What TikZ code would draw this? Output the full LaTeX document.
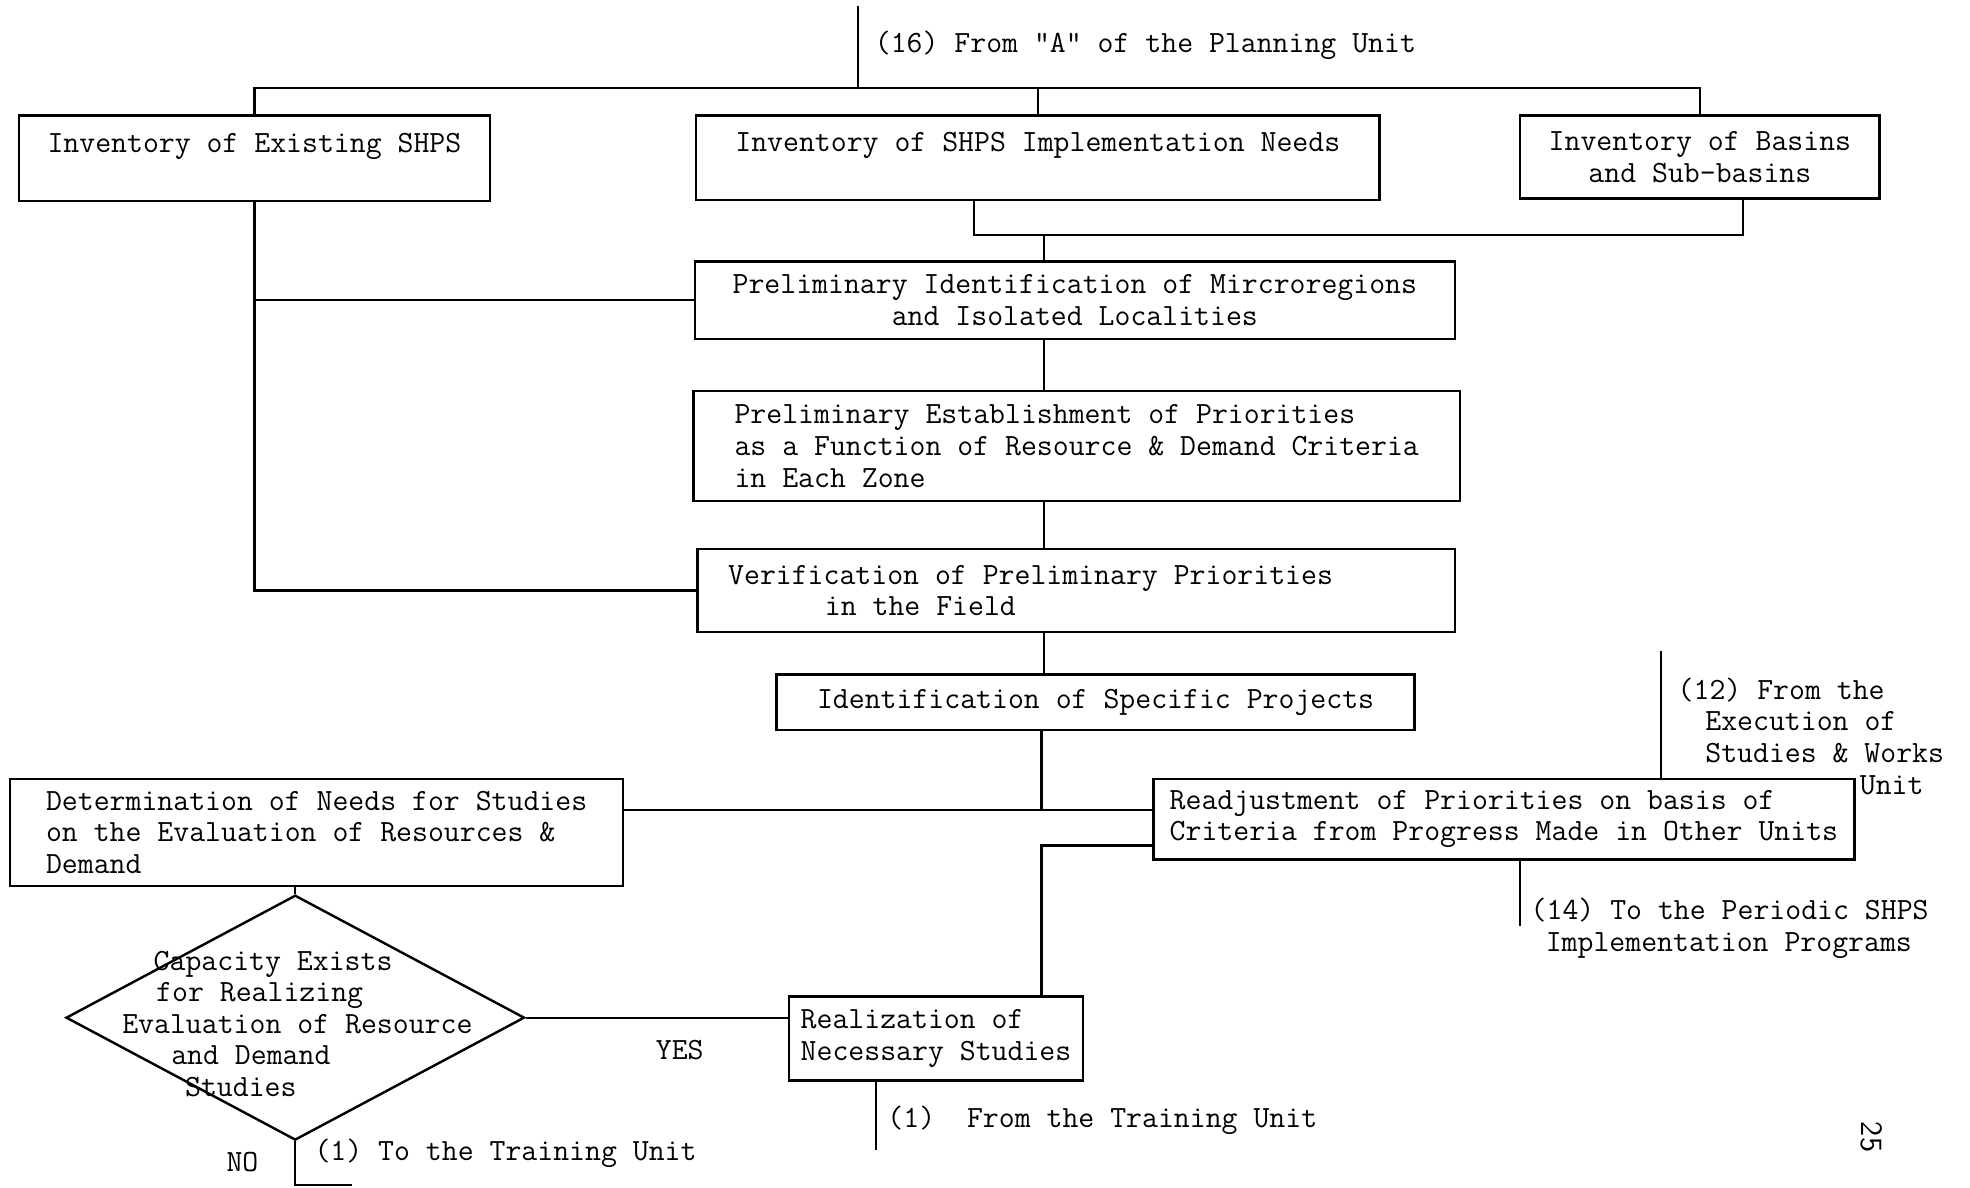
\documentclass[tikz,border=0pt]{standalone}
\usepackage{fontspec}
\usepackage{tikz}
\usetikzlibrary{shapes.geometric}

\begin{document}
\begin{tikzpicture}[x=0.02cm, y=-0.02cm,
            every node/.style={font=\fontsize{14}{14.3}\selectfont\ttfamily},
            box/.style={draw, line width=1.1pt, inner sep=0pt, align=left},
            decision/.style={draw, diamond, line width=1.1pt, inner sep=0pt},
            link/.style={line width=1pt},
            note/.style={anchor=west, inner sep=0pt, align=left}]
            \useasboundingbox (0,0) rectangle (1568,945);

            \node [box, minimum width=7.5cm, minimum height=1.36cm] (existing) at (202.5,126) {Inventory of Existing SHPS\\\mbox{}};
            \node [box, minimum width=10.88cm, minimum height=1.34cm] (needs) at (826,125.5) {Inventory of SHPS Implementation Needs\\\mbox{}};
            \node [box, align=center, minimum width=5.72cm, minimum height=1.32cm] (basins) at (1353,125) {Inventory of Basins\\and Sub-basins};
            \node [box, align=center, minimum width=12.1cm, minimum height=1.24cm] (microreg) at (855.5,239) {Preliminary Identification of Mircroregions\\and Isolated Localities};
            \node [box, minimum width=12.2cm, minimum height=1.76cm] (prelim) at (857,355) {Preliminary Establishment of Priorities\\as a Function of Resource \& Demand Criteria\\in Each Zone};
            \node [box, minimum width=12.06cm, minimum height=1.32cm] (verify) at (856.5,470) {Verification of Preliminary Priorities\hspace*{1.45cm}\\\hspace*{1.54cm}in the Field};
            \node [box, minimum width=10.16cm, minimum height=0.88cm] (projects) at (872,559) {Identification of Specific Projects};
            \node [box, minimum width=9.76cm, minimum height=1.7cm] (studyneeds) at (252,662.5) {Determination of Needs for Studies\\on the Evaluation of Resources \&\\Demand};
            \node [box, minimum width=11.16cm, minimum height=1.28cm] (readjust) at (1197,652) {Readjustment of Priorities on basis of\\Criteria from Progress Made in Other Units};
            \node [box, minimum width=4.68cm, minimum height=1.34cm] (realize) at (745,826.5) {Realization of\\Necessary Studies};
            \node [decision, minimum width=7.3cm, minimum height=3.9cm] (capacity) at (235,810) {};
            \node [note] (capacitytext) at (97,815) {\hspace*{0.5cm}Capacity Exists\\\hspace*{0.54cm}for Realizing\\Evaluation of Resource\\\hspace*{0.78cm}and Demand\\\hspace*{1cm}Studies};

            \coordinate (in16) at (683,5);
            \coordinate (bus) at (683,70);
            \coordinate (merge) at (831,187);
            \coordinate (tee) at (829,645);
            \coordinate (noend) at (280,943);
            \coordinate (train) at (697,915);
            \coordinate (out14) at (1210,737);
            \coordinate (in12) at (1322,518);

            \draw [link] (in16) -- (bus);
            \draw [link] (existing.north) |- (bus) -| (basins.north);
            \draw [link] (needs.north) -- (needs.north |- bus);
            \draw [link] ([xshift=-1.02cm]needs.south) |- (merge) -| ([xshift=0.68cm]basins.south);
            \draw [link] (merge) -- (merge |- microreg.north);
            \draw [link] (microreg.south -| merge) -- (prelim.north -| merge);
            \draw [link] (prelim.south -| merge) -- (verify.north -| merge);
            \draw [link] (verify.south -| merge) -- (projects.north -| merge);
            \draw [link] (existing.south) |- (verify.west);
            \draw [link] (microreg.west) -- (microreg.west -| existing.south);
            \draw [link] (projects.south -| tee) -- (tee);
            \draw [link] (studyneeds.east |- tee) -- (readjust.west |- tee);
            \draw [link] ([yshift=-0.42cm]readjust.west) -| (realize.north -| tee);
            \draw [link] (studyneeds.south -| capacity.north) -- (capacity.north);
            \draw [link] (capacity.east) -- (capacity.east -| realize.west);
            \draw [link] (capacity.south) |- (noend);
            \draw [link] (train |- realize.south) -- (train);
            \draw [link] (out14 |- readjust.south) -- (out14);
            \draw [link] (in12) -- (in12 |- readjust.north);

            \node [note] (lbl16) at (696,36) {(16) From "A" of the Planning Unit};
            \node [note] (lbl12) at (1335,586) {(12) From the\\\hspace*{0.44cm}Execution of\\\hspace*{0.44cm}Studies \& Works\\\hspace*{2.9cm}Unit};
            \node [note] (lbl14) at (1218,739) {(14) To the Periodic SHPS\\\hspace*{0.24cm}Implementation Programs};
            \node [note] (lblfrom1) at (706,892) {(1)~~From the Training Unit};
            \node [note] (lblto1) at (250,918) {(1) To the Training Unit};
            \node (yes) at (541,836) {YES};
            \node (no) at (193,925) {NO};
            \node [rotate=-90, font=\fontsize{14}{14}\selectfont\sffamily] (page) at (1490,905) {25};
        \end{tikzpicture}
\end{document}
